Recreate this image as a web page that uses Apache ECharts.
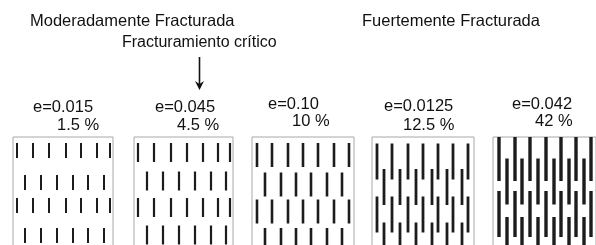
<!DOCTYPE html>
<html><head><meta charset="utf-8">
<script src="https://cdn.jsdelivr.net/npm/echarts@6/dist/echarts.min.js"></script>
<style>html,body{margin:0;padding:0;background:#fff}#c{width:596px;height:245px}</style>
</head><body><div id="c"></div>
<script>
// ---- data ----
const panelLabels = ['e=0.015', 'e=0.045', 'e=0.10', 'e=0.0125', 'e=0.042'];
const panelPercents = ['1.5 %', '4.5 %', '10 %', '12.5 %', '42 %'];
// x positions of fractures in odd rows (1,3) and even rows (2,4), relative units inside each box
const rowAX = [
  [4, 20, 36, 53, 68, 84, 97],
  [4, 20, 37, 53, 69, 84, 96],
  [5, 20, 36, 51, 66, 82, 97],
  [5, 20, 36, 51, 66, 81, 96],
  [6, 22, 37, 53, 68, 83, 98]
];
const rowBX = [
  [12, 28, 44, 60, 75, 91],
  [13, 29, 45, 61, 77, 92],
  [13, 29, 44, 59, 75, 90],
  [12, 28, 44, 60, 75, 90],
  [14, 29, 45, 61, 76, 91]
];
// vertical centre of each fracture row (depth units from box top)
const rowCenters = [
  [13.5, 45.5, 68.5, 98.5],
  [15.5, 44, 70.5, 98],
  [18, 47.5, 74.5, 103],
  [24.5, 50, 77.5, 103.5],
  [21, 44.5, 77, 103]
];
const fractureLength = [15, 19, 24, 36, 46];

// ---- layout / style ----
const boxLeft = [13, 134, 252, 372, 493];
const boxWidth = [100, 99, 102, 102, 103];
const lineW = [2, 2.2, 2.6, 2.8, 3.4];
const boxTop = 137, boxH = 109;
const FONT = '"Liberation Sans", Arial, sans-serif';

const grids = [], xAxes = [], yAxes = [], series = [];
for (let p = 0; p < 5; p++) {
  grids.push({left: boxLeft[p], top: boxTop, width: boxWidth[p], height: boxH,
    show: true, borderColor: '#a8a8a8', borderWidth: 1, backgroundColor: '#fff',
    outerBoundsMode: 'none'});
  xAxes.push({gridIndex: p, type: 'value', min: 0, max: boxWidth[p], show: false});
  yAxes.push({gridIndex: p, type: 'value', min: 0, max: boxH, inverse: true, show: false});
  const data = [];
  rowCenters[p].forEach((c, r) => {
    const xs = (r % 2 === 0) ? rowAX[p] : rowBX[p];
    xs.forEach(x => data.push([x, c - fractureLength[p] / 2, c + fractureLength[p] / 2]));
  });
  const w = lineW[p];
  series.push({
    type: 'custom', xAxisIndex: p, yAxisIndex: p, clip: true,
    encode: {x: 0, y: [1, 2]},
    data: data,
    renderItem: function (params, api) {
      const a = api.coord([api.value(0), api.value(1)]);
      const b = api.coord([api.value(0), api.value(2)]);
      return {type: 'line', shape: {x1: a[0], y1: a[1], x2: b[0], y2: b[1]},
        style: {stroke: '#1c1c1c', lineWidth: w}};
    }
  });
}

function txt(s, x, y, size) {
  return {type: 'text', left: x, top: y - size * 0.6 + 2, style: {text: s, font: size + 'px ' + FONT, fill: '#111'}};
}
const labelX = [33, 155, 268, 384, 512];
const labelY = [106.5, 106.5, 103.5, 106, 103.5];
const pctX = [57, 177, 292, 403, 535];
const pctY = [124.5, 124.5, 121, 124.5, 121];

const graphics = [
  txt('Moderadamente Fracturada', 30, 21, 16.5),
  txt('Fuertemente Fracturada', 362, 21, 16.5),
  txt('Fracturamiento crítico', 122, 42, 16),
  {type: 'line', shape: {x1: 199.5, y1: 57, x2: 199.5, y2: 86}, style: {stroke: '#111', lineWidth: 1.6}},
  {type: 'polygon', shape: {points: [[195, 81], [199.5, 90], [204, 81], [199.5, 84]]}, style: {fill: '#111'}}
];
for (let p = 0; p < 5; p++) {
  graphics.push(txt(panelLabels[p], labelX[p], labelY[p], 16.5));
  graphics.push(txt(panelPercents[p], pctX[p], pctY[p], 16.5));
}

const chart = echarts.init(document.getElementById('c'), null, {renderer: 'canvas'});
chart.setOption({
  animation: false,
  backgroundColor: '#fff',
  grid: grids, xAxis: xAxes, yAxis: yAxes, series: series,
  graphic: graphics
});
</script></body></html>
